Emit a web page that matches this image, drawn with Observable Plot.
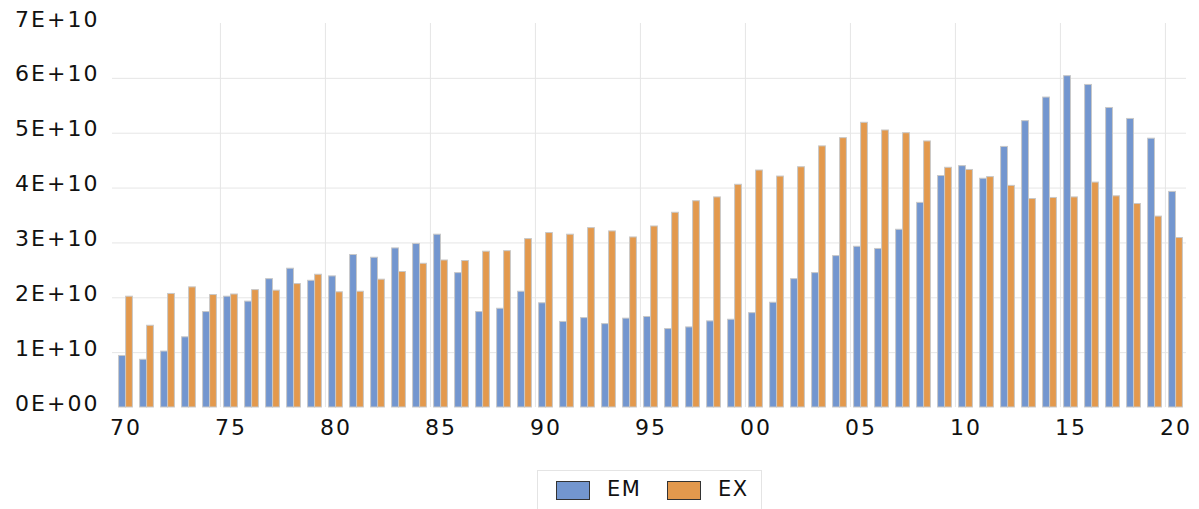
<!DOCTYPE html>
<html>
<head>
<meta charset="utf-8">
<script src="https://cdn.jsdelivr.net/npm/d3@7"></script>
<script src="https://cdn.jsdelivr.net/npm/@observablehq/plot@0.6"></script>
<style>
  html, body { margin: 0; padding: 0; background: #fff; }
  #chart { position: relative; width: 1199px; height: 509px; overflow: hidden; }
  #legend {
    position: absolute; left: 537px; top: 470px; width: 225px; height: 50px;
    border: 1px solid #e4e4e4; box-sizing: border-box;
    font-family: "DejaVu Sans", sans-serif; font-size: 21px; color: #111;
  }
  .sw { position: absolute; top: 10px; width: 34px; height: 19px; border: 1px solid #333; box-sizing: border-box; }
  .lb { position: absolute; top: 6px; letter-spacing: 1.5px; }
</style>
</head>
<body>
<div id="chart"></div>
<script>
const years = d3.range(1970, 2021);
const seriesNames = ["EM", "EX"];
const emValues = [
  0.94, 0.87, 1.02, 1.28, 1.74, 2.02, 1.93, 2.34, 2.53, 2.31,
  2.39, 2.78, 2.73, 2.90, 2.98, 3.15, 2.45, 1.74, 1.80, 2.11,
  1.90, 1.56, 1.63, 1.52, 1.62, 1.65, 1.43, 1.46, 1.57, 1.60,
  1.72, 1.91, 2.34, 2.45, 2.76, 2.93, 2.89, 3.24, 3.73, 4.22,
  4.40, 4.17, 4.75, 5.22, 5.65, 6.04, 5.88, 5.46, 5.26, 4.90,
  3.93
].map(v => v * 1e10);
const exValues = [
  2.02, 1.49, 2.07, 2.19, 2.05, 2.06, 2.14, 2.13, 2.25, 2.42,
  2.10, 2.11, 2.33, 2.47, 2.62, 2.68, 2.67, 2.84, 2.85, 3.07,
  3.18, 3.15, 3.27, 3.21, 3.10, 3.30, 3.55, 3.76, 3.83, 4.06,
  4.32, 4.21, 4.38, 4.76, 4.91, 5.19, 5.05, 5.00, 4.85, 4.37,
  4.33, 4.20, 4.04, 3.80, 3.82, 3.83, 4.10, 3.85, 3.71, 3.48,
  3.09
].map(v => v * 1e10);
const yTicks = [0, 1e10, 2e10, 3e10, 4e10, 5e10, 6e10, 7e10];
const xTickYears = [1970, 1975, 1980, 1985, 1990, 1995, 2000, 2005, 2010, 2015, 2020];
const gridYears = [1975, 1980, 1985, 1990, 1995, 2000, 2005, 2010, 2015, 2020];

const emData = years.map((year, i) => ({year, value: emValues[i]}));
const exData = years.map((year, i) => ({year, value: exValues[i]}));

const W = 1199, H = 440, mL = 111, mR = 10, mT = 23, mB = 33;
const bw = (W - mL - mR) / years.length;
const colors = {EM: "#7396cf", EX: "#e3994d"};
const fmtY = v => { const n = Math.round(v / 1e10); return n === 0 ? "0E+00" : n + "E+10"; };

const plot = Plot.plot({
  width: W, height: H,
  marginLeft: mL, marginRight: mR, marginTop: mT, marginBottom: mB,
  style: {fontFamily: "DejaVu Sans, sans-serif", fontSize: "22px", color: "#111", background: "#fff"},
  x: {type: "band", domain: years, padding: 0, axis: null},
  y: {domain: [0, 7e10], axis: null},
  marks: [
    Plot.ruleY(yTicks.slice(1, 7), {stroke: "#e6e6e6", strokeWidth: 1, x1: years[0], x2: years[years.length-1], insetLeft: -3}),
    Plot.ruleX(gridYears, {x: d => d, y1: 0, y2: 7e10, stroke: "#e6e6e6", strokeWidth: 1, dx: -bw / 2}),
    Plot.barY(emData, {x: "year", y: "value", fill: colors.EM, stroke: "#c8c8c8", strokeWidth: 1, insetLeft: 3.6, insetRight: bw - 10.6}),
    Plot.barY(exData, {x: "year", y: "value", fill: colors.EX, stroke: "#c8c8c8", strokeWidth: 1, insetLeft: 10.6, insetRight: 3.6}),
    Plot.text(yTicks, {x: years[0], y: d => d, text: fmtY, textAnchor: "end", dx: -bw / 2 - 16, dy: -4, fontSize: 22, fill: "#111"}),
    Plot.text(xTickYears, {x: d => d, y: 0, text: d => String(d).slice(2), dy: 20, fontSize: 22, fill: "#111", lineAnchor: "middle"})
  ]
});
plot.setAttribute("letter-spacing", "2");
document.getElementById("chart").appendChild(plot);

const legend = document.createElement("div");
legend.id = "legend";
seriesNames.forEach((name, i) => {
  const sw = document.createElement("div");
  sw.className = "sw";
  sw.style.left = (i === 0 ? 18 : 129) + "px";
  sw.style.background = colors[name];
  legend.appendChild(sw);
  const lb = document.createElement("div");
  lb.className = "lb";
  lb.style.left = (i === 0 ? 69 : 180) + "px";
  lb.textContent = name;
  legend.appendChild(lb);
});
document.getElementById("chart").appendChild(legend);
</script>
</body>
</html>
